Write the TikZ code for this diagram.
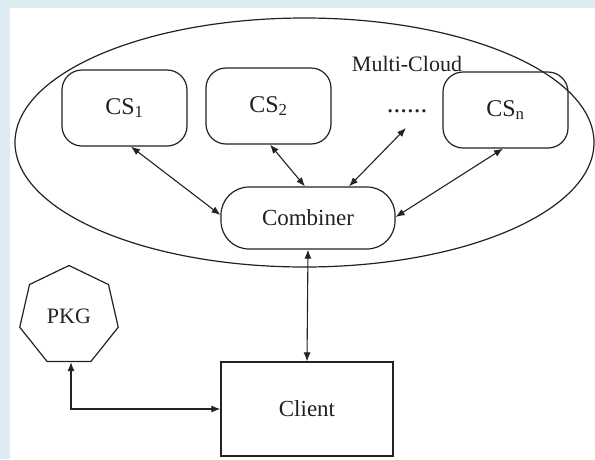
\documentclass[tikz,border=0pt]{standalone}
\usepackage{fontspec}
\setmainfont{Liberation Serif}
\usetikzlibrary{shapes.geometric,arrows.meta,calc}
\definecolor{bgblue}{HTML}{DCECF2}
\definecolor{ink}{HTML}{222222}
\tikzset{
  box/.style={draw=ink, line width=1.2pt, rounded corners=20pt, minimum width=125pt, minimum height=76pt, inner sep=0pt, font=\fontsize{24}{28}\selectfont, text=ink},
  pill/.style={draw=ink, line width=1.2pt, rounded corners=28pt, minimum width=174pt, minimum height=62pt, inner sep=0pt, font=\fontsize{23}{27}\selectfont, text=ink},
  plainbox/.style={draw=ink, line width=1.2pt, minimum width=172pt, minimum height=94pt, inner sep=0pt, font=\fontsize{23}{27}\selectfont, text=ink},
  hept/.style={draw=ink, line width=1.2pt, regular polygon, regular polygon sides=7, minimum size=101pt, inner sep=0pt, font=\fontsize{22}{26}\selectfont, text=ink},
  lbl/.style={font=\fontsize{22}{26}\selectfont, text=ink, inner sep=0pt},
  link/.style={draw=ink, line width=1.1pt, {Latex[length=9pt,width=7pt]}-{Latex[length=9pt,width=7pt]}}
}
\begin{document}
\begin{tikzpicture}[x=1pt,y=-1pt]
\useasboundingbox (0,0) rectangle (595,459);
\fill[bgblue] (0,0) rectangle (595,459);
\fill[white] (10,8) rectangle (595,459);
\draw[ink, line width=1.2pt] (304.5,142.5) ellipse [x radius=289.5, y radius=124.5];
\node[lbl] (mc) at (407,64) {Multi-Cloud};
\node[box] (cs1) at (124.5,108) {CS\textsubscript{1}};
\node[box] (cs2) at (268.5,106) {CS\textsubscript{2}};
\node[box] (csn) at (505.5,110) {CS\textsubscript{n}};
\node[lbl, anchor=base, font=\fontsize{27}{30}\selectfont] (dots) at (407,112) {......};
\coordinate (dotend) at (406,128);
\node[pill] (comb) at (308,218) {Combiner};
\node[plainbox] (client) at (307,409) {Client};
\node[hept] (pkg) at (69,316) {PKG};
\draw[link] ([xshift=6.5pt]cs1.south) -- ([yshift=3pt]comb.west);
\draw[link] ([xshift=1.5pt]cs2.south) -- ([xshift=-3pt]comb.north);
\draw[link] (dotend) -- ([xshift=41pt]comb.north);
\draw[link] ([xshift=-2.5pt]csn.south) -- ([yshift=1pt]comb.east);
\draw[link] (comb.south) -- (client.north);
\draw[link] ([xshift=2pt]pkg.south) |- (client.west);
\end{tikzpicture}
\end{document}
